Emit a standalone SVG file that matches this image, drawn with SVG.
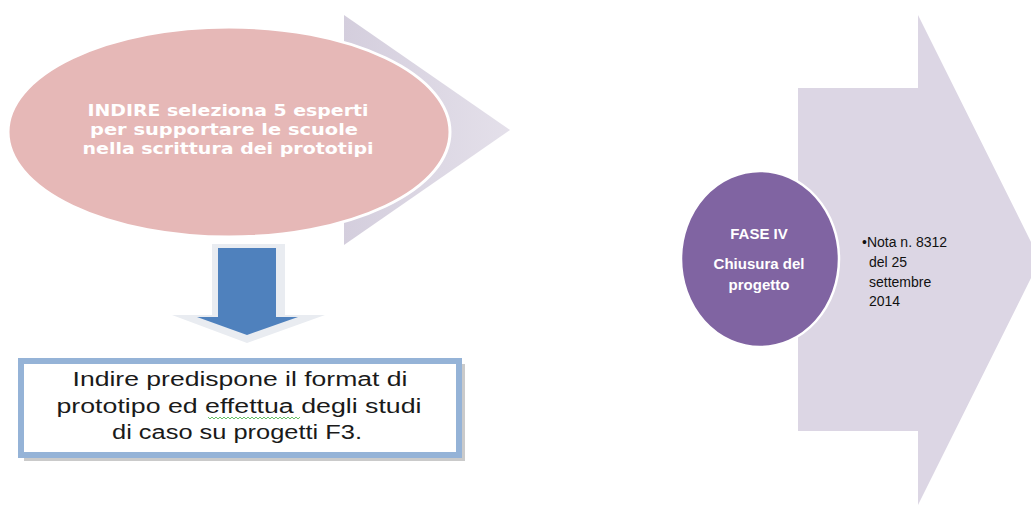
<svg xmlns="http://www.w3.org/2000/svg" width="1031" height="505" viewBox="0 0 1031 505">
<style>
.lav{fill:#DCD6E4}
.etxt{font-family:"DejaVu Sans",Verdana,sans-serif;font-weight:bold;font-size:15px;fill:#ffffff;text-anchor:middle}
.btxt{font-family:"Liberation Sans",Arial,sans-serif;font-size:20px;fill:#1a1a1a;text-anchor:middle}
.ctxt{font-family:"Liberation Sans",Arial,sans-serif;font-weight:bold;font-size:15px;fill:#ffffff;text-anchor:middle}
.ntxt{font-family:"Liberation Sans",Arial,sans-serif;font-size:14px;fill:#111111}
</style>
<defs>
<linearGradient id="lg" x1="0" y1="0" x2="1" y2="0">
<stop offset="0" stop-color="#D4CEDD"/><stop offset="1" stop-color="#E4E0EA"/>
</linearGradient>
</defs>
<rect width="1031" height="505" fill="#ffffff"/>
<g id="chevron-left">
<polygon points="344,15 510,130 344,245" fill="url(#lg)"/>
</g>
<g id="ellipse-indire">
<ellipse cx="229" cy="132" rx="221" ry="105" fill="#E6B8B7" stroke="#ffffff" stroke-width="3"/>
<text class="etxt" x="228" y="116" textLength="281" lengthAdjust="spacingAndGlyphs">INDIRE seleziona 5 esperti</text>
<text class="etxt" x="224" y="135" textLength="268" lengthAdjust="spacingAndGlyphs">per supportare le scuole</text>
<text class="etxt" x="228" y="154" textLength="291" lengthAdjust="spacingAndGlyphs">nella scrittura dei prototipi</text>
</g>
<g id="connectors">
<polygon points="212,244 285,244 285,315 325,315 247,343 172,315 212,315" fill="#E9ECF1"/>
<polygon points="218,248 276,248 276,317 298,317 247,335 197,317 218,317" fill="#4F81BD"/>
</g>
<g id="box-format">
<rect x="24" y="364" width="441" height="97" fill="#A6A6A6" opacity="0.6"/>
<rect x="21" y="361" width="438" height="94" fill="#ffffff" stroke="#95B3D7" stroke-width="6"/>
<text class="btxt" x="240" y="386" textLength="335" lengthAdjust="spacingAndGlyphs">Indire predispone il format di</text>
<text class="btxt" x="239" y="413" textLength="365" lengthAdjust="spacingAndGlyphs">prototipo ed effettua degli studi</text>
<text class="btxt" x="237" y="439" textLength="250" lengthAdjust="spacingAndGlyphs">di caso su progetti F3.</text>
<polyline points="208,417 210,419 212,417 214,419 216,417 218,419 220,417 222,419 224,417 226,419 228,417 230,419 232,417 234,419 236,417 238,419 240,417 242,419 244,417 246,419 248,417 250,419 252,417 254,419 256,417 258,419 260,417 262,419 264,417 266,419 268,417 270,419 272,417 274,419 276,417 278,419 280,417 282,419 284,417 286,419 288,417 290,419 292,417 294,419 296,417 298,419 300,417" fill="none" stroke="#3FAF3F" stroke-width="0.8"/>
</g>
<g id="arrow-right">
<polygon class="lav" points="798,88 918,88 918,15 1040,260 918,505 918,431 798,431"/>
<text class="ntxt" x="862" y="247">•Nota n. 8312</text>
<text class="ntxt" x="869" y="267">del 25</text>
<text class="ntxt" x="869" y="287">settembre</text>
<text class="ntxt" x="869" y="306">2014</text>
</g>
<g id="circle-fase4">
<ellipse cx="760" cy="259" rx="79" ry="88" fill="#8064A2" stroke="#ffffff" stroke-width="2.5"/>
<text class="ctxt" x="759" y="239">FASE IV</text>
<text class="ctxt" x="759" y="269">Chiusura del</text>
<text class="ctxt" x="759" y="290">progetto</text>
</g>
</svg>
